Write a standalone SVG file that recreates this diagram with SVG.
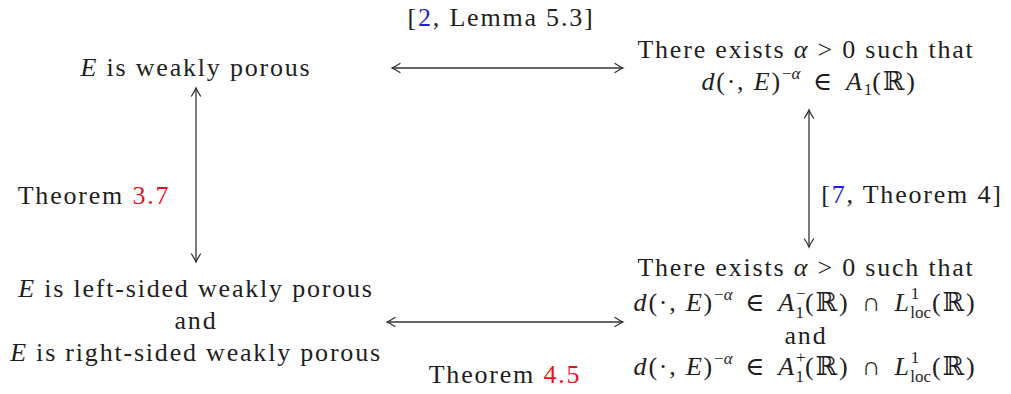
<svg xmlns="http://www.w3.org/2000/svg" width="1011" height="394" viewBox="0 0 1011 394">
<style>
text{font-family:"Liberation Serif","DejaVu Serif",serif;font-size:26px;fill:#1e1e1e;letter-spacing:1.8px;text-anchor:middle}
.i{font-style:italic}
.s{font-size:17px;letter-spacing:0}
.red{fill:#e0141e}
.blue{fill:#1e1ed2}
.ar{stroke:#333;stroke-width:1.3;fill:none;marker-start:url(#ah);marker-end:url(#ah)}
</style>
<defs>
<marker id="ah" markerUnits="userSpaceOnUse" orient="auto-start-reverse" markerWidth="14" markerHeight="14" viewBox="-10 -7 14 14" refX="0" refY="0" overflow="visible">
<path d="M-8,-4.5 Q-3,-1.2 0,0 Q-3,1.2 -8,4.5" fill="none" stroke="#333" stroke-width="1.3" stroke-linecap="round"/>
</marker>
</defs>
<g id="connectors">
<line class="ar" x1="392" y1="68" x2="623" y2="68"/>
<line class="ar" x1="196" y1="88" x2="196" y2="262"/>
<line class="ar" x1="809" y1="110" x2="809" y2="247"/>
<line class="ar" x1="387" y1="322" x2="623" y2="322"/>
</g>
<g id="label-top"><text x="501" y="26">[<tspan class="blue">2</tspan>,  Lemma 5.3]</text></g>
<g id="label-left"><text x="94" y="204">Theorem <tspan class="red">3.7</tspan></text></g>
<g id="label-right"><text x="912" y="203">[<tspan class="blue">7</tspan>,  Theorem 4]</text></g>
<g id="label-bottom"><text x="505" y="383">Theorem <tspan class="red">4.5</tspan></text></g>
<g id="node-weakly-porous"><text x="196" y="76"><tspan class="i">E</tspan> is weakly porous</text></g>
<g id="node-A1">
<text x="806" y="58">There exists <tspan class="i">α</tspan> &gt; 0 such that</text>
<text x="809" y="90"><tspan class="i">d</tspan>(·, <tspan class="i">E</tspan>)<tspan class="s" dy="-11">−<tspan class="i">α</tspan></tspan><tspan dy="11" dx="4"> ∈ </tspan><tspan class="i" dx="4">A</tspan><tspan class="s" dy="5">1</tspan><tspan dy="-5">(ℝ)</tspan></text>
</g>
<g id="node-sided">
<text x="196" y="297"><tspan class="i">E</tspan> is left-sided weakly porous</text>
<text x="196" y="329">and</text>
<text x="196" y="361"><tspan class="i">E</tspan> is right-sided weakly porous</text>
</g>
<g id="node-A1pm">
<text x="806" y="276">There exists <tspan class="i">α</tspan> &gt; 0 such that</text>
<text x="805" y="311"><tspan class="i">d</tspan>(·, <tspan class="i">E</tspan>)<tspan class="s" dy="-11">−<tspan class="i">α</tspan></tspan><tspan dy="11" dx="4"> ∈ </tspan><tspan class="i" dx="4">A</tspan><tspan class="s" dy="-12">−</tspan><tspan class="s" dx="-10" dy="19">1</tspan><tspan dy="-7" dx="1">(ℝ)</tspan><tspan dx="4"> ∩ </tspan><tspan class="i" dx="4">L</tspan><tspan class="s" dy="-12">1</tspan><tspan class="s" dx="-9" dy="19">loc</tspan><tspan dy="-7" dx="1">(ℝ)</tspan></text>
<text x="806" y="344">and</text>
<text x="805" y="375"><tspan class="i">d</tspan>(·, <tspan class="i">E</tspan>)<tspan class="s" dy="-11">−<tspan class="i">α</tspan></tspan><tspan dy="11" dx="4"> ∈ </tspan><tspan class="i" dx="4">A</tspan><tspan class="s" dy="-12">+</tspan><tspan class="s" dx="-10" dy="19">1</tspan><tspan dy="-7" dx="1">(ℝ)</tspan><tspan dx="4"> ∩ </tspan><tspan class="i" dx="4">L</tspan><tspan class="s" dy="-12">1</tspan><tspan class="s" dx="-9" dy="19">loc</tspan><tspan dy="-7" dx="1">(ℝ)</tspan></text>
</g>
</svg>
